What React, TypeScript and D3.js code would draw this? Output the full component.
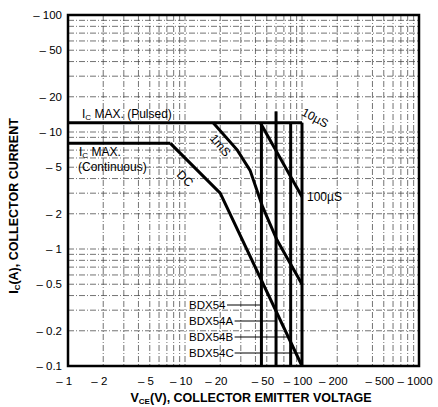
import React from 'react';
import * as d3 from 'd3';

// axis ticks (labels carry a leading dash in the original datasheet)
const xTicks = [1, 2, 5, 10, 20, 50, 100, 200, 500, 1000];
const yTicks = [100, 50, 20, 10, 5, 2, 1, 0.5, 0.2, 0.1];

// SOA boundary curves, [Vce (V), Ic (A)]
const pulsedMax = [[1, 12], [100, 12]];
const continuousMax = [[1, 8], [7.5, 8]];
const dcCurve = [[7.5, 8], [20, 3], [100, 0.1]];
const ms1Curve = [[17.4, 12], [28, 7], [36, 4.7], [46, 2.3], [61, 1.2], [100, 0.5]];
const us100Curve = [[44, 12], [100, 2.8]];

// Vceo limits per device
const devices = ['BDX54', 'BDX54A', 'BDX54B', 'BDX54C'];
const vceoLimits = [45, 60, 80, 100];

const W = 438, H = 407;
const x = d3.scaleLog().domain([1, 1000]).range([68, 419]);
const y = d3.scaleLog().domain([0.1, 100]).range([366, 15]);

function gridValues(lo: number, hi: number) {
  const out: number[] = [];
  for (let d = lo; d < hi; d *= 10) {
    for (let k = 1; k <= 9; k++) out.push(d * k);
  }
  out.push(hi);
  return out;
}

const xGrid = gridValues(1, 1000);
const yGrid = gridValues(0.1, 100);

const line = d3.line<number[]>().x(d => x(d[0])).y(d => y(d[1]));

export default function App() {
  const font = '"Liberation Sans", Arial, sans-serif';
  const left = x(1), right = x(1000), top = y(100), bottom = y(0.1);
  const curveStyle = { fill: 'none', stroke: '#000', strokeWidth: 3, strokeLinejoin: 'miter' as const };

  return (
    <svg width={W} height={H} style={{ position: 'absolute', left: 0, top: 0, background: '#fff' }} fontFamily={font}>
      {/* grid */}
      <g stroke="#444" strokeWidth={0.75} strokeDasharray="6,2,1,2">
        {xGrid.map(v => (
          <line key={'gx' + v} x1={x(v)} x2={x(v)} y1={top} y2={bottom} />
        ))}
        {yGrid.map(v => (
          <line key={'gy' + v} x1={left} x2={right} y1={y(v)} y2={y(v)} />
        ))}
      </g>

      {/* frame */}
      <rect x={left} y={top} width={right - left} height={bottom - top} fill="none" stroke="#000" strokeWidth={2.5} />

      {/* y tick labels */}
      {yTicks.map(v => (
        <text key={'ty' + v} x={62} y={y(v) + 4} fontSize={11.5} textAnchor="end">{'\u2013 ' + v}</text>
      ))}

      {/* x tick labels: number centred on value, dash before it */}
      {xTicks.map(v => {
        const s = String(v);
        const numW = s.length * 6.3;
        return (
          <text key={'tx' + v} x={x(v) + numW / 2 + 1} y={385} fontSize={11.5} textAnchor="end">{'\u2013 ' + s}</text>
        );
      })}

      {/* axis titles */}
      <text x={251} y={402} fontSize={12.5} fontWeight="bold" textAnchor="middle">
        V<tspan fontSize={8} dy={2}>CE</tspan><tspan dy={-2}>(V), COLLECTOR EMITTER VOLTAGE</tspan>
      </text>
      <text transform={`translate(18,206) rotate(-90)`} fontSize={12.5} fontWeight="bold" textAnchor="middle">
        I<tspan fontSize={8} dy={2}>C</tspan><tspan dy={-2}>(A), COLLECTOR CURRENT</tspan>
      </text>

      {/* device voltage limits */}
      {vceoLimits.map((v, i) => (
        <line key={'v' + v} x1={x(v)} x2={x(v)} y1={y(i === 1 ? 15 : 12)} y2={bottom} stroke="#000" strokeWidth={3} />
      ))}

      {/* SOA curves */}
      <path d={line(pulsedMax as any) || ''} {...curveStyle} />
      <path d={line(continuousMax as any) || ''} {...curveStyle} />
      <path d={line(dcCurve as any) || ''} {...curveStyle} />
      <path d={line(ms1Curve as any) || ''} {...curveStyle} />
      <path d={line(us100Curve as any) || ''} {...curveStyle} />

      {/* device labels with leaders */}
      {devices.map((name, i) => {
        const ly = 305 + i * 16;
        return (
          <g key={name}>
            <text x={189} y={ly + 4} fontSize={11.5}>{name}</text>
            <line x1={189 + name.length * 7.6} x2={x(vceoLimits[i])} y1={ly} y2={ly} stroke="#000" strokeWidth={1} />
          </g>
        );
      })}

      {/* curve annotations */}
      <text x={82} y={y(12) - 5} fontSize={12}>
        I<tspan fontSize={8} dy={2}>C</tspan><tspan dy={-2}> MAX. (Pulsed)</tspan>
      </text>
      <text x={79} y={y(8) + 13} fontSize={12}>
        I<tspan fontSize={8} dy={2}>C</tspan><tspan dy={-2}> MAX.</tspan>
      </text>
      <text x={78} y={y(8) + 28} fontSize={12}>(Continuous)</text>
      <text transform={`translate(${x(10)},${y(4)}) rotate(45)`} fontSize={12} textAnchor="middle" dominantBaseline="central">DC</text>
      <text transform={`translate(${x(20)},${y(7.7)}) rotate(50)`} fontSize={12} textAnchor="middle" dominantBaseline="central">1mS</text>
      <text transform={`translate(${x(100) + 13},${y(12) - 5}) rotate(28)`} fontSize={12} textAnchor="middle" dominantBaseline="central">10µS</text>
      <text x={x(100) + 5} y={y(2.8) + 4} fontSize={12}>100µS</text>
    </svg>
  );
}
